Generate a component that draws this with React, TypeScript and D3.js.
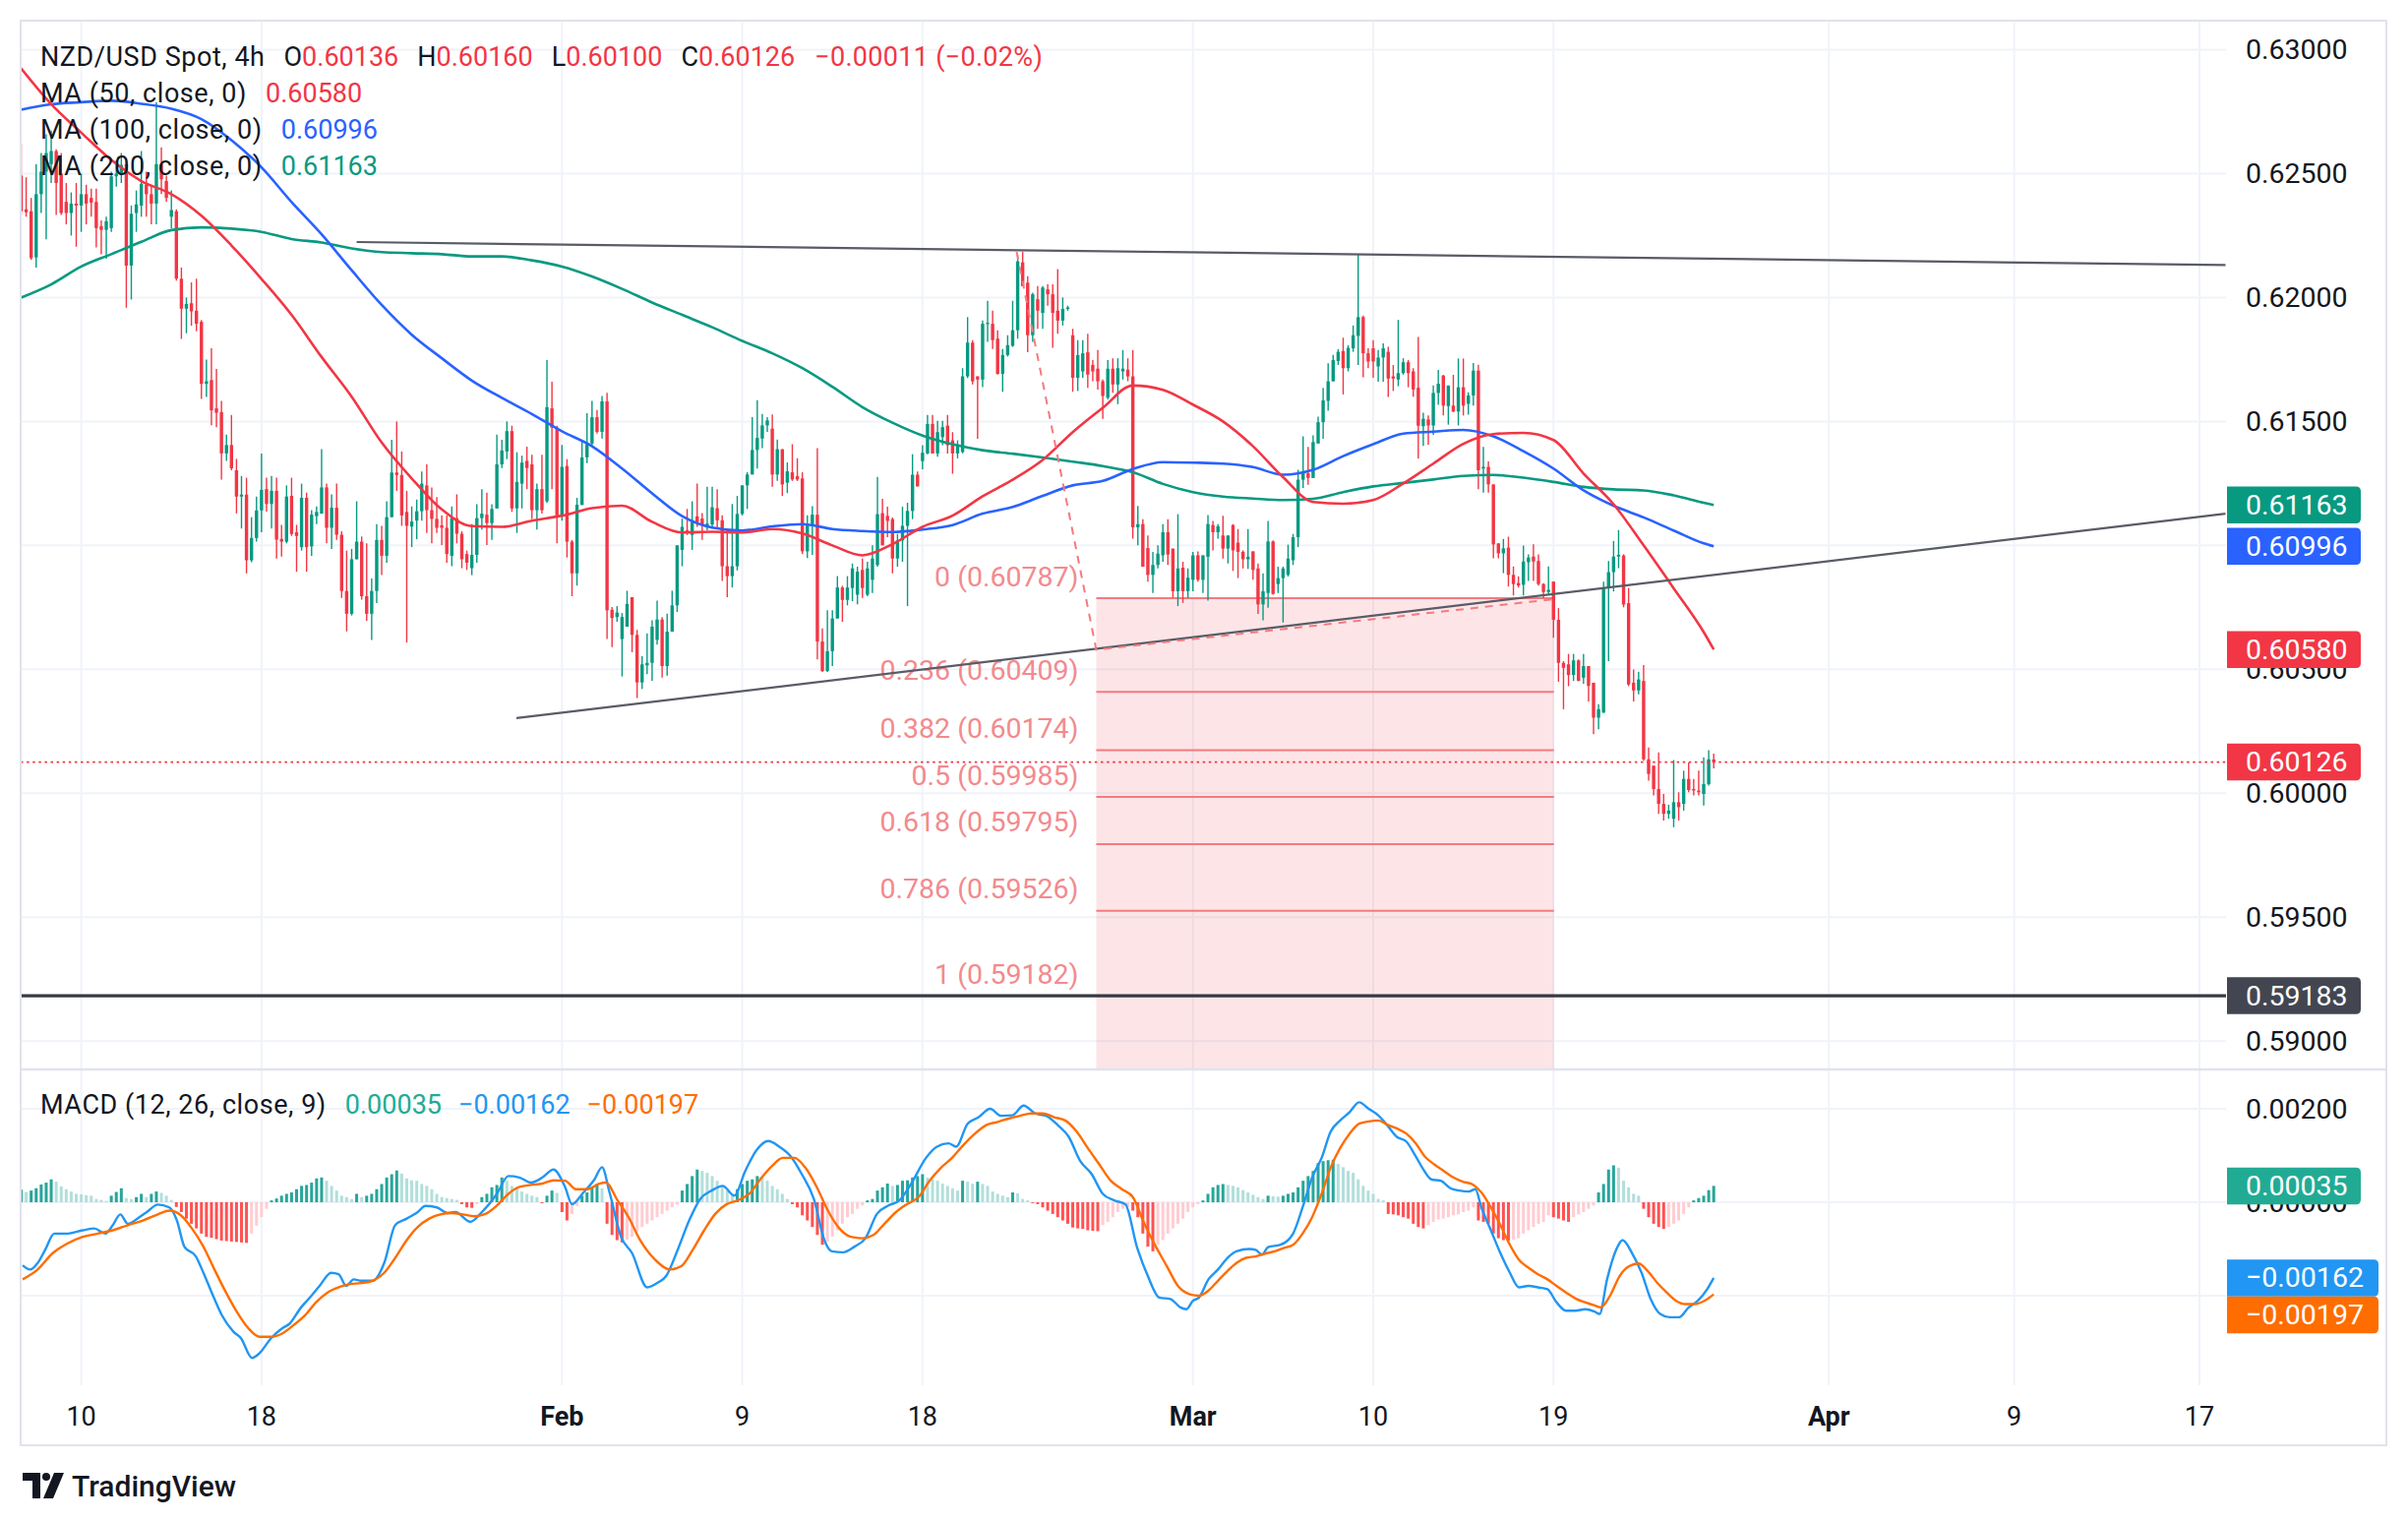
import React from "react";
import * as d3 from "d3";

// ---------- DATA (prices in 1e-5 units, one entry per 4h bar) ----------
const PIP = 1e-5;

const opens = [
62492,62356,62348,62162,62417,62508,62538,62591,62500,62386,
62341,62379,62371,62417,62402,62386,62288,62273,62280,62489,
62495,62538,62129,62341,62371,62455,62417,62379,62538,62470,
62326,62348,62076,61955,61977,61947,61902,61652,61667,61553,
61538,61371,61405,61303,61197,61205,60940,61030,61141,61227,
61167,61220,61026,61015,61200,61053,60993,61192,60996,61118,
61128,61234,61071,61152,61043,60816,60724,60944,61015,60795,
60724,60816,61022,60958,61114,61294,61284,61135,61076,61100,
61138,61242,61142,61107,61081,61071,60958,61110,61047,60965,
60908,60962,61110,61124,61090,61149,61327,61379,61461,61149,
61249,61341,61327,61142,61227,61178,61553,61475,61121,61320,
61015,60887,61163,61355,61411,61517,61458,61581,60740,60711,
60622,60672,60791,60639,60447,60516,60526,60619,60701,60513,
60652,60758,60982,61061,61042,61117,61108,61081,61084,61150,
61101,60916,60876,60916,61127,61242,61286,61385,61431,61484,
61471,61286,61388,61253,61295,61279,61270,60976,61079,61124,
60612,60493,60573,60705,60830,60780,60828,60801,60901,60801,
60861,60921,61130,61119,61106,60947,61020,61079,61139,61285,
61340,61371,61490,61371,61437,61483,61424,61371,61377,61682,
61818,61682,61669,61894,61894,61834,61692,61768,61805,61868,
62142,62060,61848,61993,61938,62033,62013,61947,61907,61954,
61848,61676,61702,61779,61728,61713,61662,61596,61713,61649,
61702,61709,61682,61073,61086,60989,60881,60921,60960,61053,
60987,60815,60910,60815,60861,60960,60861,60954,61082,61053,
61040,60987,61082,61011,60974,60944,60976,60907,60762,60808,
61016,60844,60868,60881,60940,61033,61265,61291,61272,61411,
61497,61583,61662,61744,61784,61715,61795,61845,61921,61775,
61795,61722,61758,61781,61682,61669,61695,61739,61702,61636,
61481,61508,61484,61615,61685,61562,61564,61540,61638,61571,
61605,61705,61310,61317,61246,61008,60968,60991,60881,60848,
60841,60932,60955,60937,60844,60812,60854,60700,60526,60520,
60477,60536,60466,60513,60446,60305,60325,60828,60892,60955,
60959,60767,60446,60415,60453,60137,60111,60017,59957,59917,
59897,59964,59957,60058,60017,60011,59997,60037,60136];

const highs = [
62621,62485,62402,62538,62583,62659,62674,62598,62583,62462,
62424,62462,62500,62455,62439,62439,62311,62326,62508,62553,
62583,62553,62371,62432,62591,62508,62455,62788,62606,62492,
62432,62356,62121,62000,62061,62076,61909,61750,61795,61712,
61583,61447,61526,61349,61280,61273,61114,61197,61371,61273,
61280,61273,61083,61242,61273,61083,61249,61213,61142,61157,
61388,61249,61206,61249,61057,60979,60986,61178,61036,61008,
60866,61086,61079,61178,61426,61500,61379,61220,61157,61185,
61298,61327,61234,61195,61121,61121,61157,61206,61057,60979,
61086,61166,61227,61213,61166,61447,61426,61500,61483,61376,
61362,61398,61366,61249,61366,61748,61660,61483,61405,61348,
61022,61192,61425,61533,61583,61546,61603,61616,60751,60755,
60727,60817,60791,60659,60553,60645,60698,60777,60711,60725,
60817,61000,61108,61147,61178,61249,61130,61237,61237,61227,
61121,61068,61167,61200,61242,61295,61517,61586,61530,61517,
61528,61427,61388,61335,61408,61352,61295,61121,61158,61392,
60665,60738,60738,60876,60837,60876,60927,60914,60947,60934,
61000,61276,61188,61156,61113,61046,61156,61172,61368,61298,
61404,61526,61526,61503,61503,61526,61457,61424,61715,61921,
61828,61682,61907,61987,61947,61868,61792,61848,61987,62172,
62185,62086,62020,62046,62046,62053,62053,62115,62000,61967,
61874,61828,61828,61854,61748,61788,61669,61748,61755,61755,
61788,61755,61788,61159,61106,61040,60974,61000,61086,61106,
60987,61126,60934,60907,60974,60976,60960,61122,61099,61086,
61119,61040,61086,61066,60980,61066,60976,60927,60887,61099,
61020,60914,60914,61003,61046,61305,61440,61397,61444,61519,
61636,61735,61768,61792,61838,61808,61887,62176,61927,61795,
61828,61788,61815,61801,61728,61910,61755,61748,61715,61841,
61535,61524,61645,61708,61688,61645,61688,61754,61754,61618,
61736,61729,61397,61339,61246,61008,61026,61035,60915,60875,
60999,60964,61004,60964,60848,60915,60854,60747,60533,60562,
60562,60540,60562,60513,60446,60359,60854,60937,61018,61062,
60964,60828,60499,60490,60517,60185,60111,60165,59997,59954,
60134,60004,60091,60124,60058,60091,60145,60174,60160];

const lows = [
62333,62326,62152,62121,62341,62235,62462,62333,62333,62295,
62250,62205,62265,62295,62326,62202,62174,62156,62265,62447,
62462,61959,61992,62265,62326,62326,62295,62295,62417,62386,
62280,62068,61833,61856,61886,61864,61591,61599,61485,61477,
61265,61341,61303,61129,61068,60887,60932,61015,61053,61136,
61068,60947,60955,61008,61038,60894,60979,60894,60958,61086,
61128,61008,60986,61022,60788,60653,60717,60944,60781,60696,
60618,60767,60880,60930,61114,61220,61079,60608,60993,61025,
61100,61050,61008,61050,61001,60930,60916,61008,60908,60901,
60880,60930,61064,61001,61022,61149,61312,61348,61135,61050,
61149,61227,61107,61064,61128,61171,61227,61008,61100,60951,
60795,60838,61163,61332,61400,61451,61431,60622,60590,60692,
60471,60672,60569,60384,60421,60480,60454,60599,60467,60474,
60652,60731,60916,61042,60982,61075,61022,61061,61068,61068,
60857,60791,60830,60899,61121,61147,61286,61310,61392,61458,
61237,61260,61200,61211,61260,61260,60965,60949,60962,60540,
60489,60489,60513,60705,60692,60758,60775,60762,60788,60795,
60808,60914,61000,61033,60887,60914,60934,60755,61106,61238,
61307,61368,61371,61358,61404,61371,61289,61351,61371,61675,
61649,61430,61638,61821,61792,61689,61620,61762,61801,61834,
62046,61779,61821,61874,61874,61967,61797,61854,61887,61947,
61620,61623,61676,61636,61662,61629,61510,61589,61616,61570,
61669,61662,61027,61000,60914,60854,60808,60907,60934,60921,
60788,60755,60768,60788,60815,60854,60808,60777,60980,61027,
60947,60927,60897,60868,60907,60905,60861,60724,60698,60748,
60801,60808,60689,60874,60921,60993,61232,61245,61272,61411,
61430,61543,61662,61728,61609,61702,61781,61728,61678,61715,
61676,61660,61660,61599,61623,61642,61689,61638,61600,61351,
61401,61406,61446,61567,61524,61487,61538,61484,61524,61527,
61564,61227,61213,61213,60948,60948,60888,60834,60798,60830,
60798,60857,60857,60838,60787,60804,60627,60450,60339,60432,
60453,60453,60442,60370,60238,60258,60325,60533,60814,60908,
60750,60432,60370,60399,60131,60051,59991,59917,59890,59897,
59863,59890,59930,60004,59991,59991,59950,60031,60100];

const closes = [
62348,62344,62159,62417,62508,62583,62591,62462,62341,62341,
62379,62371,62417,62379,62383,62280,62273,62308,62489,62500,
62535,62129,62338,62376,62459,62417,62379,62538,62477,62402,
62353,62076,61955,61974,61944,61894,61652,61662,61545,61535,
61371,61405,61311,61197,61205,60940,61030,61141,61224,61167,
61220,61023,61015,61197,61046,61038,61192,60993,61124,61135,
61234,61071,61152,61043,60816,60724,60944,61015,60795,60724,
60816,61022,60958,61114,61294,61284,61121,61079,61096,61138,
61249,61142,61107,61071,61071,60965,61110,61047,60944,60930,
60962,61110,61128,61090,61147,61327,61383,61461,61149,61256,
61334,61312,61142,61227,61142,61558,61475,61121,61317,61015,
60887,61164,61355,61409,61517,61458,61581,60738,60707,60729,
60711,60764,60639,60447,60520,60526,60672,60701,60513,60652,
60758,61000,61075,61055,61094,61094,61081,61088,61154,61101,
60916,60876,60916,61127,61242,61286,61385,61434,61484,61504,
61286,61388,61246,61299,61266,61266,60976,61081,61124,60612,
60493,60573,60705,60830,60780,60830,60907,60894,60828,60907,
60947,61126,61000,61099,60947,61020,61079,61139,61285,61238,
61374,61490,61371,61457,61477,61404,61371,61404,61682,61818,
61662,61669,61894,61898,61828,61692,61768,61808,61868,62146,
62046,61848,62013,61947,62040,62013,61938,61907,61954,61960,
61676,61768,61775,61689,61702,61662,61603,61713,61649,61715,
61713,61682,61073,61086,60914,60881,60921,60967,61053,60963,
60815,60907,60815,60870,60960,60861,60960,61086,61053,61077,
60987,61040,60980,60974,60944,60954,60901,60762,60815,61016,
60804,60868,60907,60947,61033,61265,61291,61272,61417,61497,
61585,61662,61748,61781,61715,61797,61848,61921,61775,61742,
61742,61758,61795,61673,61673,61695,61739,61695,61629,61483,
61511,61484,61615,61652,61564,61645,61540,61638,61564,61605,
61705,61303,61317,61246,61004,60968,60988,60881,60844,60838,
60935,60951,60935,60844,60812,60821,60700,60526,60506,60477,
60536,60453,60513,60433,60305,60339,60830,60892,60955,60962,
60761,60439,60415,60459,60137,60078,60017,59957,59917,59930,
59964,59944,60058,60013,60011,60004,60037,60137,60126];

// Moving averages [bar, value(1e-5)]
const ma50: [number, number][] = [[0,62924],[6,62780],[12,62665],[18,62555],[24,62470],[30,62417],[36,62330],[42,62210],[48,62075],[54,61930],[60,61760],[66,61600],[72,61415],[78,61270],[84,61145],[90,61078],[96,61075],[102,61100],[108,61120],[114,61150],[120,61160],[126,61095],[132,61052],[138,61055],[144,61052],[150,61066],[156,61048],[162,61000],[168,60960],[174,61005],[180,61075],[186,61120],[192,61198],[198,61265],[204,61345],[210,61457],[216,61555],[222,61645],[228,61628],[234,61568],[240,61500],[246,61400],[252,61275],[258,61175],[264,61168],[270,61183],[276,61250],[282,61330],[288,61410],[294,61449],[300,61454],[306,61425],[312,61290],[318,61166],[324,61000],[330,60827],[336,60650],[338,60580]];
const ma100: [number, number][] = [[0,62758],[6,62780],[12,62788],[18,62794],[24,62782],[30,62762],[36,62720],[42,62635],[48,62525],[54,62385],[60,62255],[66,62110],[72,61970],[78,61850],[84,61755],[90,61665],[96,61595],[102,61530],[108,61460],[114,61400],[120,61310],[126,61210],[132,61118],[138,61072],[144,61060],[150,61077],[156,61086],[162,61066],[168,61058],[174,61054],[180,61064],[186,61082],[192,61128],[198,61155],[204,61200],[210,61242],[216,61260],[222,61308],[228,61336],[234,61334],[240,61330],[246,61316],[252,61285],[258,61305],[264,61360],[270,61408],[276,61451],[282,61459],[288,61466],[294,61440],[300,61380],[306,61310],[312,61222],[318,61160],[324,61113],[330,61060],[336,61008],[338,60996]];
const ma200: [number, number][] = [[0,62000],[6,62053],[12,62125],[18,62175],[24,62225],[30,62272],[36,62283],[42,62278],[48,62265],[54,62236],[60,62222],[66,62198],[72,62183],[78,62179],[84,62175],[90,62166],[96,62166],[102,62150],[108,62125],[114,62085],[120,62035],[126,61980],[132,61930],[138,61880],[144,61825],[150,61775],[156,61715],[162,61640],[168,61558],[174,61495],[180,61443],[186,61408],[192,61384],[198,61370],[204,61355],[210,61338],[216,61320],[222,61295],[228,61248],[234,61215],[240,61197],[246,61189],[252,61183],[258,61188],[264,61215],[270,61238],[276,61252],[282,61266],[288,61280],[294,61284],[300,61273],[306,61256],[312,61236],[318,61226],[324,61222],[330,61202],[336,61172],[338,61163]];

// MACD histogram, one per bar (1e-5)
const hist = [
27,22,25,30,38,42,49,44,34,28,
23,18,17,15,14,7,5,3,14,22,
30,9,7,11,18,11,18,23,20,14,
5,-10,-21,-35,-46,-56,-67,-74,-76,-79,
-82,-83,-84,-85,-86,-87,-67,-50,-32,-14,
4,8,14,18,21,28,35,37,42,51,
53,46,35,25,14,11,7,18,11,14,
18,28,39,53,60,68,61,51,47,46,
39,35,28,18,11,9,7,5,-4,-11,
-12,-4,11,18,32,37,53,46,35,28,
23,18,14,11,-2,14,25,20,-21,-39,
-25,-8,14,21,32,39,30,-46,-70,-81,
-86,-80,-74,-63,-53,-46,-39,-32,-25,-18,
-11,-5,25,39,56,70,67,63,56,46,
35,25,18,28,39,46,49,56,53,46,
35,28,18,7,-4,-11,-28,-39,-53,-70,
-91,-84,-74,-60,-46,-32,-25,-14,-7,4,
7,25,32,40,35,37,46,47,53,56,
60,53,49,46,40,35,30,25,46,44,
40,44,39,35,23,18,14,11,21,19,
7,4,-2,-4,-11,-18,-25,-32,-39,-46,
-54,-56,-57,-60,-61,-62,-49,-42,-32,-21,
-14,-10,-18,-32,-67,-95,-105,-91,-81,-67,
-56,-46,-35,-21,-11,-4,4,18,32,37,
39,37,35,32,26,21,16,11,7,14,
13,12,14,18,21,32,46,56,67,84,
88,90,91,82,75,67,63,49,35,25,
18,7,4,-25,-26,-28,-32,-35,-46,-53,
-56,-49,-42,-37,-35,-32,-28,-26,-21,-18,
-11,-39,-42,-46,-67,-77,-81,-82,-80,-77,
-67,-60,-53,-46,-42,-28,-32,-35,-39,-42,
-32,-26,-21,-14,-7,21,39,70,79,74,
46,32,18,14,-14,-32,-46,-53,-57,-53,
-46,-39,-25,-11,4,9,14,26,35];

// MACD line and signal [bar, value(1e-5)]
const macdLine: [number, number][] = [[0.3,-135],[1.8,-144],[3.3,-130],[4.8,-102],[6.6,-67],[9.3,-67],[12.3,-60],[14.6,-56],[16.8,-67],[18.3,-49],[19.8,-26],[21.3,-46],[23.6,-32],[25.1,-21],[27.3,-5],[29.6,-11],[31.1,-39],[32.6,-95],[34.9,-116],[36.4,-151],[38.6,-207],[40.1,-242],[42.4,-277],[43.9,-291],[46.1,-333],[47.6,-323],[49.9,-291],[52.1,-270],[53.6,-260],[55.9,-225],[57.4,-207],[59.6,-179],[61.9,-151],[63.4,-154],[64.9,-179],[66.4,-165],[67.9,-168],[70.2,-168],[72.5,-130],[74.7,-49],[77,-35],[79.2,-21],[80.7,-8],[83,-11],[85.2,-23],[86.7,-21],[89.7,-42],[92,-21],[95,18],[97.3,56],[99.5,53],[101.8,42],[104.1,53],[106.3,70],[108.6,33],[110,-4],[112.3,21],[114.5,49],[116,75],[117.5,21],[119.8,-74],[122,-109],[125,-182],[127.3,-171],[128.8,-158],[131.1,-102],[133.4,-39],[135.6,7],[137.9,25],[140.1,35],[142.4,14],[144.6,67],[146.9,112],[149.2,131],[151.4,119],[153.7,98],[155.9,60],[158.3,7],[160.4,-81],[161.9,-105],[164.2,-107],[166.4,-95],[168.6,-77],[170.9,-25],[173.2,-7],[175.4,4],[177.7,39],[180.7,95],[182.9,119],[185.2,126],[186.7,119],[189,168],[191.2,182],[193.5,200],[195.7,185],[197.9,186],[200.2,207],[202.5,190],[204.7,185],[207,165],[209.2,140],[211.5,88],[213.8,60],[216,18],[218.3,4],[220.5,-4],[222.8,-95],[225,-158],[227.3,-204],[229.5,-207],[231.5,-225],[232.7,-229],[234,-211],[235.2,-204],[237.1,-165],[239,-144],[240.9,-119],[242.7,-105],[245.3,-100],[246.5,-102],[247.8,-112],[249,-96],[251.5,-91],[254,-67],[255.9,-11],[257.8,53],[259.7,95],[261.5,151],[263.4,175],[265.3,193],[267.2,214],[269.1,200],[271,186],[272.8,165],[274.7,140],[276.6,130],[278.5,98],[279.8,74],[281.6,49],[283.5,46],[285.4,30],[287.2,25],[289.1,23],[290.4,28],[291.6,-11],[293.5,-60],[295.4,-109],[297.3,-151],[299.1,-182],[301,-179],[302.9,-182],[304.8,-186],[306.6,-214],[308.5,-232],[310.4,-232],[312.3,-229],[314.2,-234],[315.2,-239],[316.7,-165],[318.5,-102],[319.8,-81],[321.7,-109],[323.6,-151],[325.4,-207],[327.3,-239],[329.2,-246],[331.1,-246],[333,-225],[334.8,-211],[336.7,-186],[338,-162]];
const signalLine: [number, number][] = [[0.3,-165],[3.3,-144],[6.3,-109],[9.3,-88],[12.3,-74],[15.3,-67],[18.3,-60],[21.3,-49],[24.3,-39],[27.3,-26],[29.6,-18],[31.9,-28],[34.1,-56],[36.4,-95],[38.6,-144],[40.9,-193],[43.1,-235],[45.4,-270],[47.6,-288],[49.9,-288],[52.1,-281],[54.4,-263],[56.7,-242],[58.9,-214],[61.2,-193],[63.4,-182],[65.7,-175],[67.9,-173],[70.2,-168],[72.5,-151],[74.7,-119],[77,-81],[79.2,-53],[81.5,-35],[83.7,-26],[86,-23],[88.2,-26],[90.5,-30],[92.7,-25],[95,-7],[97.3,18],[99.5,33],[101.8,37],[104.1,40],[106.3,47],[108.6,46],[110.8,28],[113.1,28],[115.3,39],[116.8,42],[119.1,4],[121.3,-32],[123.6,-81],[126.6,-123],[129.6,-144],[131.8,-137],[134.1,-102],[136.4,-60],[138.6,-25],[140.9,-4],[143.1,4],[145.4,18],[147.6,49],[149.9,77],[152.1,95],[154.4,95],[156.6,74],[158.9,32],[161.1,-18],[163.4,-56],[165.7,-74],[167.9,-77],[170.2,-70],[172.4,-46],[174.7,-21],[176.9,-4],[179.2,11],[181.4,46],[183.7,74],[185.9,95],[188.2,123],[190.5,147],[192.7,165],[195,172],[197.2,179],[199.5,185],[201.7,190],[204,190],[206.3,182],[208.5,175],[210.8,151],[213,116],[215.3,81],[217.6,46],[219.8,28],[222,11],[224.3,-46],[226.6,-95],[228.8,-137],[231,-179],[233.4,-197],[235.2,-200],[237.1,-189],[239,-168],[240.9,-147],[242.7,-130],[244.6,-119],[246.5,-116],[248.4,-110],[250.3,-105],[252.1,-98],[254,-91],[255.9,-67],[257.8,-32],[259.7,18],[261.5,74],[263.4,116],[265.3,147],[267.2,168],[269.1,173],[271,175],[272.8,166],[274.7,158],[276.6,147],[278.5,126],[280.3,98],[282.2,81],[284.1,67],[286,53],[287.9,44],[289.7,39],[291.6,21],[293.5,-11],[295.4,-49],[297.3,-91],[299.1,-123],[301,-140],[302.9,-154],[304.8,-165],[306.6,-179],[308.5,-193],[310.4,-206],[312.3,-214],[314.2,-221],[315.4,-225],[317.3,-200],[319.2,-158],[321.1,-137],[323,-131],[324.8,-147],[326.7,-172],[328.6,-193],[330.5,-211],[332.3,-218],[334.2,-218],[336.1,-211],[338,-197]];

// Time axis
const tickLabels = ["10", "18", "Feb", "9", "18", "Mar", "10", "19", "Apr", "9", "17"];
const tickBars = [12, 48, 108, 144, 180, 234, 270, 306, 361, 398, 435];
const priceTicks = [0.59, 0.595, 0.6, 0.605, 0.61, 0.615, 0.62, 0.625, 0.63];
const macdTicks = [-0.002, 0, 0.002];

// Drawings: [bar, price]
const resistanceLine: [number, number][] = [[67, 0.62224], [440.2, 0.62131]];
const supportLine: [number, number][] = [[98.9, 0.60303], [440.2, 0.61128]];
const fibAnchors: [number, number][] = [[198.8, 0.62188], [214.7, 0.60583], [306.1, 0.60787]];
const fibRatios = [0, 0.236, 0.382, 0.5, 0.618, 0.786, 1];
const fibPrices = [0.60787, 0.60409, 0.60174, 0.59985, 0.59795, 0.59526, 0.59182];
const horizontalLevel = 0.59183;

// ---------- STYLE ----------
const UP = "#089981";
const DOWN = "#f23645";
const TEXT = "#131722";
const FONT = "Roboto, 'Noto Sans', sans-serif";
const LS = 0.55; // letter spacing for legend words

const fmt = (v: number) => v.toFixed(5).replace("-", "\u2212");

function rrect(x: number, cy: number, w: number, h: number, r: number) {
  const y = cy - h / 2;
  return `M${x},${y}H${x + w - r}Q${x + w},${y} ${x + w},${y + r}V${y + h - r}Q${x + w},${y + h} ${x + w - r},${y + h}H${x}Z`;
}

export default function App() {
  const L = 21, R = 2263, T = 21, PB = 1087, MB = 1408, FR = 2426, FB = 1469;
  const x = d3.scaleLinear().domain([0, 435]).range([21.5, 2236]);
  const yP = d3.scaleLinear().domain([0.59, 0.63]).range([1058.2, 50.5]);
  const yM = d3.scaleLinear().domain([-0.002, 0.002]).range([1317, 1127]);

  const maLine = d3.line<[number, number]>().x(d => x(d[0])).y(d => yP(d[1] * PIP)).curve(d3.curveMonotoneX);
  const mLine = d3.line<[number, number]>().x(d => x(d[0])).y(d => yM(d[1] * PIP)).curve(d3.curveMonotoneX);
  const pLine = d3.line<[number, number]>().x(d => x(d[0])).y(d => yP(d[1]));

  const n = closes.length;
  const lo = opens[n - 1], lh = highs[n - 1], ll = lows[n - 1], lc = closes[n - 1];
  const chg = (lc - closes[n - 2]) * PIP;
  const chgPct = (chg / (closes[n - 2] * PIP)) * 100;
  const lastCol = lc >= lo ? UP : DOWN;
  const ma50v = ma50[ma50.length - 1][1] * PIP;
  const ma100v = ma100[ma100.length - 1][1] * PIP;
  const ma200v = ma200[ma200.length - 1][1] * PIP;
  const histV = hist[hist.length - 1] * PIP;
  const macdV = macdLine[macdLine.length - 1][1] * PIP;
  const sigV = signalLine[signalLine.length - 1][1] * PIP;

  const priceLabels = [
    { v: ma200v, c: UP },
    { v: ma100v, c: "#2962ff" },
    { v: ma50v, c: DOWN },
    { v: lc * PIP, c: DOWN },
    { v: horizontalLevel, c: "#434651" },
  ];
  const macdLabels = [
    { v: histV, c: "#22ab94" },
    { v: macdV, c: "#2196f3" },
    { v: sigV, c: "#ff6d00" },
  ];
  const BOXH = 37.5;
  const place = (arr: { v: number; c: string }[], scale: (v: number) => number) => {
    const items = arr.map(d => ({ ...d, y: scale(d.v) })).sort((a, b) => a.y - b.y);
    for (let i = 1; i < items.length; i++) {
      if (items[i].y - items[i - 1].y < BOXH) items[i].y = items[i - 1].y + BOXH;
    }
    return items;
  };
  const pLabels = place(priceLabels, yP);
  const mLabels = place(macdLabels, yM);
  const covered = (ty: number, boxes: { y: number }[]) =>
    [ty - 10, ty, ty + 10].every(yy => boxes.some(b => Math.abs(yy - b.y) <= BOXH / 2));

  const fx0 = x(fibAnchors[1][0]);
  const fx1 = x(fibAnchors[2][0]);

  return (
    <svg width={2448} height={1547} style={{ position: "absolute", left: 0, top: 0, background: "#fff" }} fontFamily={FONT}>
      <rect x={0} y={0} width={2448} height={1547} fill="#ffffff" />
      <defs>
        <clipPath id="mainClip"><rect x={L} y={T} width={R - L} height={PB - T} /></clipPath>
        <clipPath id="macdClip"><rect x={L} y={PB} width={R - L} height={MB - PB} /></clipPath>
      </defs>

      {/* grid */}
      {tickBars.map((b, i) => (
        <line key={"vg" + i} x1={x(b)} x2={x(b)} y1={T} y2={MB} stroke="#f0f3fa" strokeWidth={2} />
      ))}
      {priceTicks.map((p, i) => (
        <line key={"hg" + i} x1={L} x2={R} y1={yP(p)} y2={yP(p)} stroke="#f0f3fa" strokeWidth={2} />
      ))}
      {macdTicks.map((p, i) => (
        <line key={"mg" + i} x1={L} x2={R} y1={yM(p)} y2={yM(p)} stroke="#f0f3fa" strokeWidth={2} />
      ))}

      {/* main pane */}
      <g clipPath="url(#mainClip)">
        <rect x={fx0} y={yP(fibPrices[0])} width={fx1 - fx0} height={PB - yP(fibPrices[0])} fill="#f23645" fillOpacity={0.13} />
        {fibPrices.map((p, i) => (
          <line key={"fl" + i} x1={fx0} x2={fx1} y1={yP(p)} y2={yP(p)} stroke="#f47a7f" strokeWidth={2} />
        ))}
        {fibPrices.map((p, i) => (
          <text key={"ft" + i} x={fx0 - 18} y={yP(p) - 22} textAnchor="end" dominantBaseline="central" fontSize={28.5} fill="#f38a8e">
            {`${fibRatios[i]} (${p.toFixed(5)})`}
          </text>
        ))}

        {/* candles */}
        {opens.map((o, i) => {
          const c = closes[i];
          const col = c >= o ? UP : DOWN;
          const cx = x(i);
          const hi = Math.max(highs[i], o, c) * PIP;
          const lw = Math.min(lows[i], o, c) * PIP;
          const yt = yP(Math.max(o, c) * PIP);
          const yb = yP(Math.min(o, c) * PIP);
          return (
            <g key={"c" + i}>
              <line x1={cx} x2={cx} y1={yP(hi)} y2={yP(lw)} stroke={col} strokeWidth={1.4} />
              <rect x={cx - 1.7} y={yt} width={3.4} height={Math.max(1.2, yb - yt)} fill={col} />
            </g>
          );
        })}

        {/* moving averages */}
        <path d={maLine(ma200) || ""} fill="none" stroke="#089981" strokeWidth={2.6} />
        <path d={maLine(ma100) || ""} fill="none" stroke="#2962ff" strokeWidth={2.6} />
        <path d={maLine(ma50) || ""} fill="none" stroke="#f23645" strokeWidth={2.6} />

        {/* trend lines */}
        <path d={pLine(resistanceLine) || ""} fill="none" stroke="#595c66" strokeWidth={2.2} />
        <path d={pLine(supportLine) || ""} fill="none" stroke="#595c66" strokeWidth={2.2} />
        <path d={pLine(fibAnchors.map(d => [d[0], d[1] - 0.00004] as [number, number])) || ""} fill="none" stroke="#f47a7f" strokeWidth={2} strokeDasharray="8 7" />

        {/* horizontal level */}
        <line x1={L} x2={R} y1={yP(horizontalLevel)} y2={yP(horizontalLevel)} stroke="#363a45" strokeWidth={3.4} />
        {/* last price */}
        <line x1={L} x2={R} y1={yP(lc * PIP)} y2={yP(lc * PIP)} stroke={DOWN} strokeWidth={1.8} strokeDasharray="2.5 3.6" />
      </g>

      {/* MACD pane */}
      <g clipPath="url(#macdClip)">
        {hist.map((v, i) => {
          const prev = i > 0 ? hist[i - 1] : v;
          const col = v >= 0 ? (v >= prev ? "#26a69a" : "#b2dfdb") : (v <= prev ? "#ff5252" : "#ffcdd2");
          const y0 = yM(0), y1 = yM(v * PIP);
          return <rect key={"h" + i} x={x(i) - 1.5} y={Math.min(y0, y1)} width={3} height={Math.max(0.8, Math.abs(y1 - y0))} fill={col} />;
        })}
        <path d={mLine(macdLine) || ""} fill="none" stroke="#2196f3" strokeWidth={2.4} />
        <path d={mLine(signalLine) || ""} fill="none" stroke="#ff6d00" strokeWidth={2.4} />
      </g>

      {/* frame */}
      <rect x={L} y={T} width={FR - L} height={FB - T} fill="none" stroke="#e0e3eb" strokeWidth={2} />
      <line x1={L} x2={FR} y1={PB} y2={PB} stroke="#e0e3eb" strokeWidth={2.5} />

      {/* price axis */}
      {priceTicks.filter(p => !covered(yP(p), pLabels)).map((p, i) => (
        <text key={"pt" + i} x={2283} y={yP(p)} dominantBaseline="central" fontSize={28.5} fill={TEXT}>{fmt(p)}</text>
      ))}
      {macdTicks.filter(p => !covered(yM(p), mLabels)).map((p, i) => (
        <text key={"mt" + i} x={2283} y={yM(p)} dominantBaseline="central" fontSize={28.5} fill={TEXT}>{fmt(p)}</text>
      ))}
      {[...pLabels, ...mLabels].map((d, i) => {
        const w = d.v < 0 ? 154 : 136;
        return (
          <g key={"lb" + i}>
            <path d={rrect(2264, d.y, w, BOXH, 5)} fill={d.c} />
            <text x={2283} y={d.y} dominantBaseline="central" fontSize={28.5} fill="#ffffff">{fmt(d.v)}</text>
          </g>
        );
      })}

      {/* time axis */}
      {tickBars.map((b, i) => {
        const bold = isNaN(Number(tickLabels[i]));
        return (
          <text key={"tt" + i} x={x(b)} y={1440} textAnchor="middle" dominantBaseline="central" fontSize={27} fontWeight={bold ? 700 : 400} fill={TEXT}>
            {tickLabels[i]}
          </text>
        );
      })}

      {/* legends */}
      <text x={41} y={57.5} dominantBaseline="central" fontSize={27} fill={TEXT}>
        <tspan letterSpacing={LS}>NZD/USD Spot, 4h</tspan>
        <tspan dx={19}>O</tspan><tspan fill={lastCol}>{fmt(lo * PIP)}</tspan>
        <tspan dx={19}>H</tspan><tspan fill={lastCol}>{fmt(lh * PIP)}</tspan>
        <tspan dx={19}>L</tspan><tspan fill={lastCol}>{fmt(ll * PIP)}</tspan>
        <tspan dx={19}>C</tspan><tspan fill={lastCol}>{fmt(lc * PIP)}</tspan>
        <tspan dx={20} fill={lastCol} letterSpacing={0.3}>{`${fmt(chg)} (${chgPct.toFixed(2).replace("-", "\u2212")}%)`}</tspan>
      </text>
      <text x={41} y={95} dominantBaseline="central" fontSize={27} fill={TEXT}>
        <tspan letterSpacing={LS}>MA (50, close, 0)</tspan><tspan dx={19} fill="#f23645">{fmt(ma50v)}</tspan>
      </text>
      <text x={41} y={132.3} dominantBaseline="central" fontSize={27} fill={TEXT}>
        <tspan letterSpacing={LS}>MA (100, close, 0)</tspan><tspan dx={19} fill="#2962ff">{fmt(ma100v)}</tspan>
      </text>
      <text x={41} y={168.5} dominantBaseline="central" fontSize={27} fill={TEXT}>
        <tspan letterSpacing={LS}>MA (200, close, 0)</tspan><tspan dx={19} fill="#089981">{fmt(ma200v)}</tspan>
      </text>
      <text x={41} y={1123} dominantBaseline="central" fontSize={27} fill={TEXT}>
        <tspan letterSpacing={LS}>MACD (12, 26, close, 9)</tspan>
        <tspan dx={19} fill="#22ab94">{fmt(histV)}</tspan>
        <tspan dx={17} fill="#2196f3">{fmt(macdV)}</tspan>
        <tspan dx={17} fill="#ff6d00">{fmt(sigV)}</tspan>
      </text>

      {/* TradingView logo */}
      <g fill={TEXT}>
        <path d="M23,1497H41V1523H33V1505H23Z" />
        <circle cx={47} cy={1501} r={4} />
        <path d="M55,1497H65L54,1523H44Z" />
        <text x={73} y={1510} dominantBaseline="central" fontSize={30} fontWeight={500}>TradingView</text>
      </g>
    </svg>
  );
}
